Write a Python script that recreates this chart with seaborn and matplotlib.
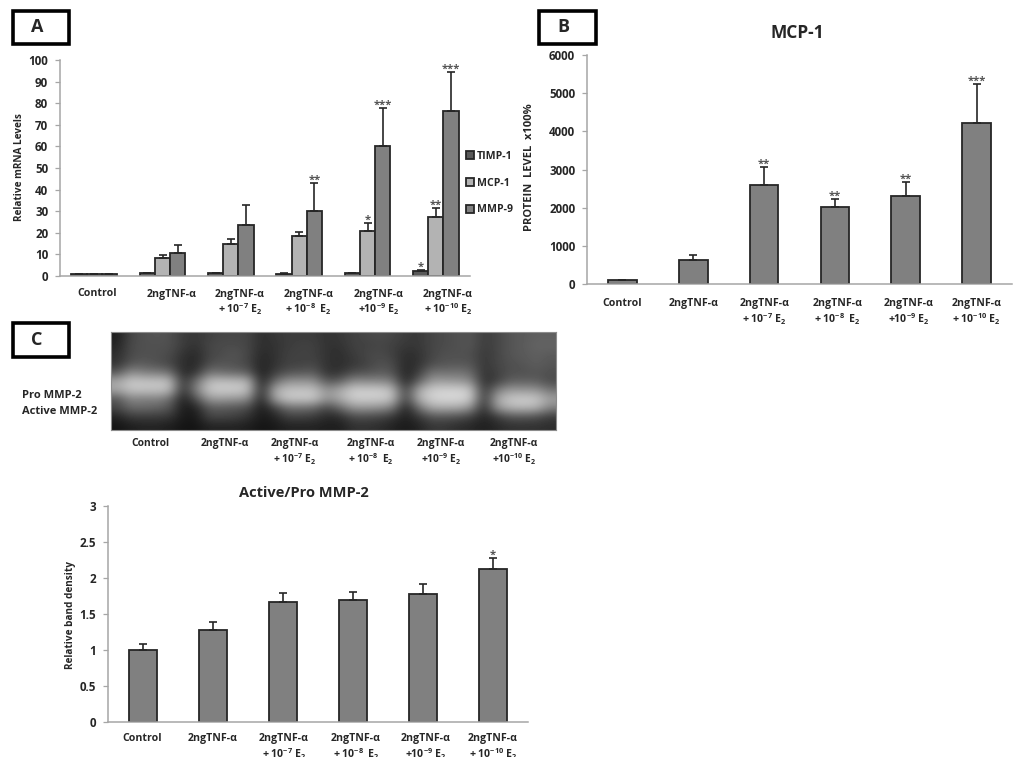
import numpy as np
import pandas as pd
import matplotlib
matplotlib.use("Agg")
import matplotlib.pyplot as plt
from matplotlib.patches import Rectangle
import seaborn as sns

# values
groups = ["Control", "TNF", "E7", "E8", "E9", "E10"]
genes = ["TIMP-1", "MCP-1", "MMP-9"]

timp1 = [1.0, 1.3, 1.3, 1.0, 1.3, 2.4]
mcp1 = [1.0, 8.3, 15.0, 18.5, 21.0, 27.3]
mmp9 = [1.0, 10.8, 23.8, 30.0, 60.0, 76.5]
timp1_top = [1.1, 1.5, 1.5, 1.4, 1.5, 3.0]
mcp1_top = [1.1, 9.7, 17.0, 20.5, 24.7, 31.5]
mmp9_top = [1.1, 14.4, 33.0, 43.2, 77.6, 94.3]
timp1_stars = ["", "", "", "", "", "*"]
mcp1_stars = ["", "", "", "", "*", "**"]
mmp9_stars = ["", "", "", "**", "***", "***"]

protein = [100, 620, 2598, 2005, 2293, 4228]
protein_top = [110, 767, 3069, 2223, 2685, 5240]
protein_stars = ["", "", "**", "**", "**", "***"]

density = [1.0, 1.28, 1.66, 1.70, 1.78, 2.13]
density_top = [1.085, 1.39, 1.785, 1.81, 1.915, 2.28]
density_stars = ["", "", "", "", "", "*"]

labels_a = ["Control", "2ngTNF-α", "2ngTNF-α\n+ 10$^{-7}$ E$_2$", "2ngTNF-α\n+ 10$^{-8}$  E$_2$",
            "2ngTNF-α\n+10$^{-9}$ E$_2$", "2ngTNF-α\n+ 10$^{-10}$ E$_2$"]
labels_gel = ["Control", "2ngTNF-α", "2ngTNF-α\n+ 10$^{-7}$ E$_2$", "2ngTNF-α\n+ 10$^{-8}$  E$_2$",
              "2ngTNF-α\n+10$^{-9}$ E$_2$", "2ngTNF-α\n+10$^{-10}$ E$_2$"]
density_ticks = [0, 0.5, 1, 1.5, 2, 2.5, 3]
density_ticklabels = ["0", "0.5", "1", "1.5", "2", "2.5", "3"]

gel_rows = [
    [30, 70, 80, 85, 80, 60, 55, 65, 70, 70, 70, 45, 55, 60, 60, 60, 50, 55, 65, 70, 75, 70, 60, 55, 70, 75, 80, 85, 60, 70, 85, 90, 95, 95],
    [35, 75, 80, 80, 80, 60, 50, 70, 75, 75, 70, 45, 50, 60, 65, 65, 50, 50, 65, 65, 70, 65, 55, 55, 70, 75, 80, 85, 60, 70, 85, 90, 100, 100],
    [45, 75, 80, 80, 75, 50, 40, 70, 75, 85, 70, 40, 50, 65, 65, 65, 50, 45, 60, 70, 75, 65, 45, 50, 70, 80, 80, 80, 55, 70, 85, 90, 95, 90],
    [50, 85, 90, 80, 70, 45, 40, 75, 85, 80, 70, 35, 50, 65, 65, 70, 50, 45, 55, 65, 80, 75, 40, 50, 75, 85, 85, 85, 55, 70, 80, 85, 95, 85],
    [85, 140, 125, 120, 110, 40, 50, 115, 105, 100, 90, 30, 60, 80, 85, 90, 50, 50, 75, 80, 90, 85, 35, 60, 115, 110, 115, 105, 50, 65, 80, 80, 85, 80],
    [165, 200, 195, 195, 190, 50, 110, 185, 190, 185, 180, 30, 105, 145, 145, 145, 85, 95, 140, 135, 135, 125, 35, 95, 155, 155, 150, 140, 45, 65, 95, 95, 95, 75],
    [165, 195, 195, 195, 190, 45, 130, 200, 205, 205, 195, 35, 170, 195, 195, 195, 145, 170, 205, 205, 205, 190, 60, 170, 205, 210, 210, 200, 50, 125, 155, 150, 150, 115],
    [85, 135, 125, 130, 110, 30, 80, 155, 155, 150, 140, 30, 160, 200, 200, 200, 145, 170, 205, 205, 205, 195, 60, 175, 210, 215, 215, 205, 50, 170, 200, 205, 200, 160],
    [70, 105, 105, 100, 85, 25, 35, 90, 90, 85, 75, 25, 65, 110, 110, 105, 70, 105, 150, 150, 145, 125, 30, 110, 170, 170, 170, 145, 40, 150, 180, 185, 180, 130],
    [35, 60, 60, 60, 55, 25, 25, 70, 70, 65, 50, 25, 35, 65, 65, 60, 40, 45, 75, 75, 70, 55, 30, 55, 85, 85, 80, 65, 35, 60, 85, 85, 80, 60],
    [20, 30, 35, 35, 30, 20, 20, 35, 35, 35, 30, 20, 25, 35, 35, 35, 30, 30, 50, 50, 45, 35, 25, 35, 55, 55, 45, 40, 30, 40, 50, 50, 50, 45],
]

sns.set_theme(style="white")
FONT = ["Open Sans", "DejaVu Sans"]
plt.rcParams["font.family"] = FONT
plt.rcParams["font.weight"] = "bold"
plt.rcParams["mathtext.fontset"] = "custom"
plt.rcParams["mathtext.rm"] = "Open Sans:bold"
plt.rcParams["mathtext.default"] = "rm"
TEXT = "#262626"
EDGE = "#262626"
AXIS = "#a6a6a6"
W, H = 1024, 768

fig = plt.figure(figsize=(W / 100, H / 100), dpi=100)


def px_axes(left, top, right, bottom):
    return fig.add_axes([left / W, 1 - bottom / H, (right - left) / W, (bottom - top) / H])


def style_axes(ax, ymax, yticks, xlabels, label_shift, pad, ylab, ylab_x):
    ax.set_xlim(-0.5, 5.5)
    ax.set_ylim(0, ymax)
    ax.set_yticks(yticks)
    ax.set_xticks(np.arange(6) + np.array(label_shift) / (ax.get_window_extent().width / 6))
    ax.set_xticklabels(xlabels, fontsize=7.6, color=TEXT, linespacing=1.2, va="top")
    ax.tick_params(axis="x", length=0, pad=pad)
    ax.tick_params(axis="y", length=3.5, width=0.9, color=AXIS, pad=5, labelsize=8.4, labelcolor=TEXT, left=True)
    ax.set_xlabel("")
    ax.set_ylabel("")
    for s in ["top", "right"]:
        ax.spines[s].set_visible(False)
    for s in ["left", "bottom"]:
        ax.spines[s].set_color(AXIS)
        ax.spines[s].set_linewidth(1.1)
    fig.text(ylab_x / W, 1 - ylab[1] / H, ylab[0], rotation=90,
             ha="center", va="center", fontsize=ylab[2], fontweight="bold", color=TEXT)


def add_errors(ax, bars, tops, stars, cap):
    # upper error bars and significance stars sit on the drawn bars
    for bar, top, star in zip(bars, tops, stars):
        x = bar.get_x() + bar.get_width() / 2
        h = bar.get_height()
        ax.errorbar(x, h, yerr=[[0], [top - h]], color=EDGE, elinewidth=1.2, capsize=cap, capthick=1.2, zorder=1)
        if star:
            ax.annotate(star, (x, top), xytext=(0, -2), textcoords="offset points", ha="center", va="bottom",
                        fontsize=8, fontweight="bold", color="#555555")


# panel A
df_a = pd.DataFrame({"group": groups * 3,
                     "gene": np.repeat(genes, 6),
                     "level": timp1 + mcp1 + mmp9})
ax_a = px_axes(60, 60, 470, 276)
sns.barplot(data=df_a, x="group", y="level", hue="gene", order=groups, hue_order=genes, ax=ax_a,
            palette=["#595959", "#b3b3b3", "#808080"], saturation=1, width=0.665, gap=0,
            edgecolor=EDGE, linewidth=1.3)
style_axes(ax_a, 100, np.arange(0, 101, 10), labels_a, [3, 9, 9, 9, 11, 12], 9,
           ("Relative mRNA Levels", 167, 7.2), 20)
for cont, tops, stars in zip(ax_a.containers, [timp1_top, mcp1_top, mmp9_top],
                             [timp1_stars, mcp1_stars, mmp9_stars]):
    add_errors(ax_a, cont, tops, stars, 2.6)
handles, names = ax_a.get_legend_handles_labels()
ax_a.legend(handles, names, loc="center left", bbox_to_anchor=(456 / W, 1 - 183 / H),
            bbox_transform=fig.transFigure, frameon=False, fontsize=7.6, labelcolor=TEXT,
            handlelength=0.8, handleheight=0.8, handletextpad=0.25, labelspacing=1.5)

# panel B
ax_b = px_axes(587, 55, 1012, 284)
sns.barplot(x=groups, y=protein, ax=ax_b, color="#808080", saturation=1, width=0.405,
            edgecolor=EDGE, linewidth=1.3)
style_axes(ax_b, 6000, np.arange(0, 6001, 1000), labels_a, [0, 0, 0, 3, 3, 0], 10,
           ("PROTEIN  LEVEL  x100%", 167, 8.0), 530)
add_errors(ax_b, ax_b.containers[0], protein_top, protein_stars, 3)

# gel photo
ax_gel = px_axes(111, 332, 556, 430)
ax_gel.imshow(np.array(gel_rows), cmap="gray", vmin=0, vmax=255, aspect="auto", interpolation="bicubic")
ax_gel.set_xticks([])
ax_gel.set_yticks([])
for s in ax_gel.spines.values():
    s.set_color("#8c8c8c")
    s.set_linewidth(0.8)

# panel C bars
ax_c = px_axes(108, 506, 528, 722)
sns.barplot(x=groups, y=density, ax=ax_c, color="#808080", saturation=1, width=0.405,
            edgecolor=EDGE, linewidth=1.3)
style_axes(ax_c, 3, density_ticks, labels_a, [-1, 0, 1, 3, 3, 0], 8,
           ("Relative band density", 615, 7.2), 71)
ax_c.set_yticklabels(density_ticklabels)
add_errors(ax_c, ax_c.containers[0], density_top, density_stars, 3)

# overlay in picture pixels for the hand placed boxes and captions
over = fig.add_axes([0, 0, 1, 1], facecolor="none")
over.set_xlim(0, W)
over.set_ylim(H, 0)
over.axis("off")
for x0, y0, x1, y1, letter in [(13, 11, 69, 44, "A"), (539, 11, 596, 44, "B"), (13, 323, 69, 357, "C")]:
    over.add_patch(Rectangle((x0, y0), x1 - x0, y1 - y0, fill=False, edgecolor="black", linewidth=2.6))
    over.text((x0 + x1) / 2 - 4, (y0 + y1) / 2, letter, ha="center", va="center", fontsize=13,
              fontweight="bold", color=TEXT)
over.text(797, 33, "MCP-1", ha="center", va="center", fontsize=12.5, fontweight="bold", color=TEXT)
over.text(304, 493, "Active/Pro MMP-2", ha="center", va="center", fontsize=10.5, fontweight="bold", color=TEXT)
over.text(22, 396, "Pro MMP-2", ha="left", va="center", fontsize=8, color=TEXT)
over.text(22, 412, "Active MMP-2", ha="left", va="center", fontsize=8, color=TEXT)
for x, lab in zip([150, 225, 295, 371, 441, 514], labels_gel):
    over.text(x, 438, lab, ha="center", va="top", fontsize=7.4, color=TEXT, linespacing=1.2)
# the bottom of the last row of labels is cut off in the source picture
over.add_patch(Rectangle((0, 757), W, H - 757, facecolor="white", edgecolor="none"))

fig.savefig("out.png", dpi=100, facecolor="white")
